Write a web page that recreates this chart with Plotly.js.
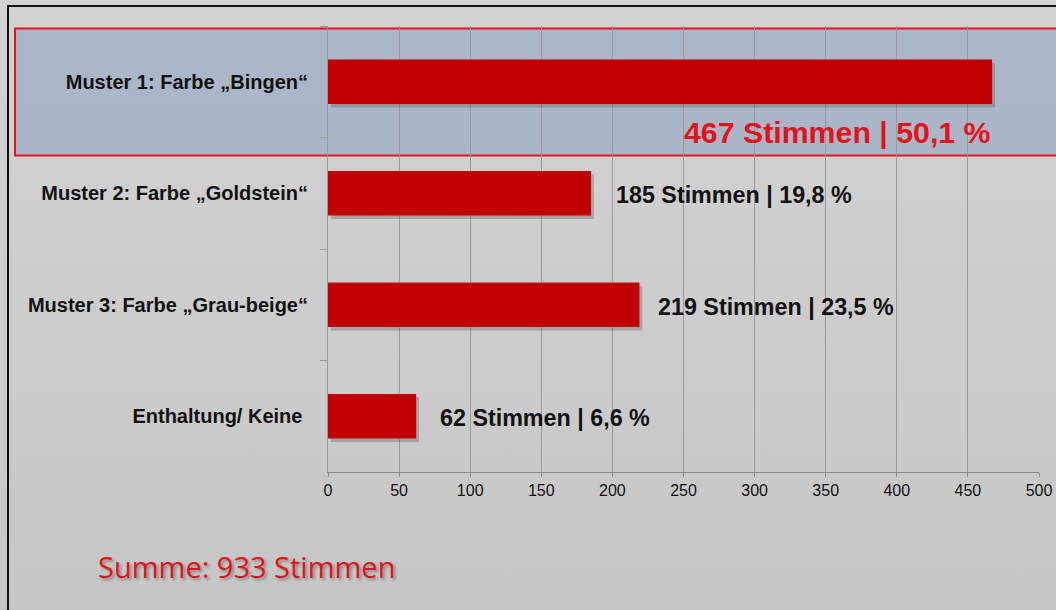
<!DOCTYPE html>
<html>
<head>
<meta charset="utf-8">
<script src="https://cdn.plot.ly/plotly-3.0.1.min.js"></script>
<style>
  html, body { margin: 0; padding: 0; width: 1056px; height: 610px; overflow: hidden; }
  body { background: linear-gradient(180deg, #d3d3d3 0%, #cdcdcd 50%, #c6c6c6 100%); position: relative; }
  #frame { position: absolute; left: 7px; top: 5px; width: 1100px; height: 700px; border: 2px solid #111; box-sizing: border-box; }
  #chart { position: absolute; left: 0; top: 0; width: 1056px; height: 610px; }
</style>
</head>
<body>
<div id="frame"></div>
<div id="chart"></div>
<script>
// ---- data ----
const categories = ['Muster 1: Farbe „Bingen“', 'Muster 2: Farbe „Goldstein“', 'Muster 3: Farbe „Grau-beige“', 'Enthaltung/ Keine\u00a0'];
const votes = [467, 185, 219, 62];
const percents = ['50,1', '19,8', '23,5', '6,6'];
const xTicks = [0, 50, 100, 150, 200, 250, 300, 350, 400, 450, 500];
const totalLabel = 'Summe: 933 Stimmen';

// ---- styling (not data) ----
const labelShift = [0, 23, 17, 22];
const barRed = '#c00000';

const shadow = {
  type: 'bar', orientation: 'h', y: categories, x: votes, base: 2,
  width: 0.4, offset: -0.2 + 0.03,
  marker: { color: 'rgba(60,60,60,0.28)', line: { width: 0 } },
  hoverinfo: 'skip', showlegend: false
};
const bars = {
  type: 'bar', orientation: 'h', y: categories, x: votes,
  width: 0.4,
  marker: { color: barRed, line: { width: 0 } },
  hoverinfo: 'skip', showlegend: false
};

const annotations = votes.map((v, i) => {
  const txt = v + ' Stimmen | ' + percents[i] + ' %';
  if (i === 0) {
    return {
      x: v, y: categories[i], xref: 'x', yref: 'y', text: '<b>' + txt + '</b>',
      showarrow: false, xanchor: 'right', yanchor: 'middle', xshift: 1, yshift: -51,
      font: { family: 'Liberation Sans, Arial, sans-serif', size: 30.3, color: '#e3121b' }
    };
  }
  return {
    x: v, y: categories[i], xref: 'x', yref: 'y', text: '<b>' + txt + '</b>',
    showarrow: false, xanchor: 'left', yanchor: 'middle', xshift: labelShift[i], yshift: -2,
    font: { family: 'Liberation Sans, Arial, sans-serif', size: 23.3, color: '#111' }
  };
});
annotations.push({
  xref: 'paper', yref: 'paper', x: -0.327, y: -0.213, xanchor: 'left', yanchor: 'middle',
  text: totalLabel, showarrow: false,
  font: { family: 'Open Sans, sans-serif', size: 29, color: '#e3121b', shadow: '2px 2px 3px rgba(0,0,0,0.35)' }
});

const layout = {
  width: 1056, height: 610,
  margin: { l: 328, r: 17, t: 26, b: 138, pad: 0 },
  paper_bgcolor: 'rgba(0,0,0,0)',
  plot_bgcolor: 'rgba(0,0,0,0)',
  barmode: 'overlay',
  showlegend: false,
  xaxis: {
    range: [0, 500], tickvals: xTicks, ticktext: xTicks.map(String),
    showgrid: true, gridcolor: '#9a9a9a', gridwidth: 1,
    zeroline: false, showline: true, linecolor: '#8a8a8a', linewidth: 1,
    ticks: 'outside', ticklen: 4, tickcolor: '#8a8a8a',
    tickfont: { family: 'Liberation Sans Narrow, Arial Narrow, Liberation Sans, sans-serif', size: 16, color: '#111' },
    fixedrange: true
  },
  yaxis: {
    type: 'category', range: [3.5, -0.5], autorange: false,
    showgrid: false, zeroline: false,
    showline: true, linecolor: '#9a9a9a', linewidth: 1,
    ticks: 'outside', ticklen: 7, tickcolor: '#9a9a9a', tickson: 'boundaries',
    ticklabelstandoff: 15,
    tickfont: { family: 'Liberation Sans, Arial, sans-serif', size: 20, color: '#111', weight: 'bold' },
    fixedrange: true
  },
  shapes: [{
    type: 'rect', xref: 'paper', yref: 'paper', layer: 'below',
    x0: -0.4402, x1: 1.05, y0: 0.7096, y1: 0.9944,
    fillcolor: 'rgba(145,165,195,0.6)',
    line: { color: '#e3121b', width: 2 }
  }],
  annotations: annotations
};

Plotly.newPlot('chart', [shadow, bars], layout, { displayModeBar: false, staticPlot: true });
</script>
</body>
</html>
